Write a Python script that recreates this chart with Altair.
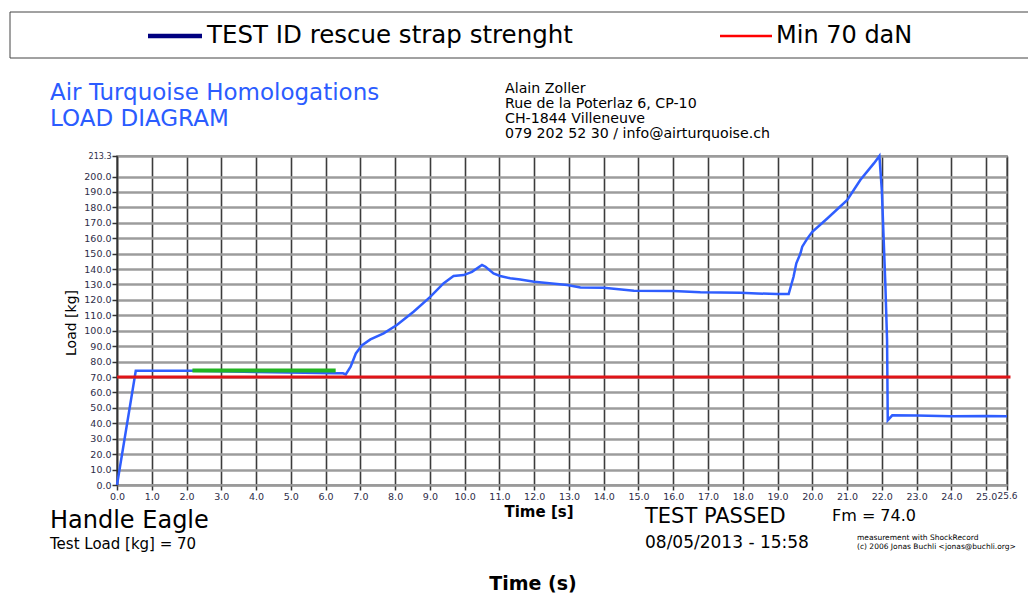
import altair as alt
import pandas as pd

# ---------------- data ----------------
TIME = [0.0, 0.54, 2.2, 4.0, 6.3, 6.5, 6.58, 6.72, 6.87, 7.05, 7.29, 7.67, 8.05, 8.53,
        9.01, 9.39, 9.68, 9.97, 10.21, 10.5, 10.6, 10.83, 11.02, 11.31, 11.6, 12.0,
        12.95, 13.33, 14.0, 14.87, 16.0, 16.78, 17.93, 18.41, 18.98, 19.32, 19.46,
        19.54, 19.66, 19.71, 19.86, 20.0, 20.43, 21.0, 21.38, 21.77, 21.93, 22.0,
        22.1, 22.15, 22.17, 22.3, 23.0, 24.0, 25.0, 25.6]
LOAD = [0.0, 74.1, 74.0, 73.3, 72.5, 72.4, 71.7, 76.7, 85.3, 90.7, 94.4, 98.3, 103.7,
        112.3, 122.0, 130.7, 135.5, 136.1, 138.2, 142.6, 141.5, 137.2, 135.5, 134.0,
        133.3, 131.8, 129.6, 128.1, 127.9, 125.9, 125.7, 124.9, 124.6, 124.2, 123.8,
        123.8, 135.0, 143.7, 150.2, 154.5, 159.9, 164.2, 172.8, 184.7, 197.7, 208.5,
        213.3, 191.0, 130.7, 94.0, 42.0, 45.2, 45.0, 44.6, 44.8, 44.6]
GREEN_TIME = [2.17, 6.29]
GREEN_LOAD = [74.3, 74.3]
MIN_TIME = [0.0, 25.7]
MIN_LOAD = [70.0, 70.0]

X_TICKS = [0.0, 1.0, 2.0, 3.0, 4.0, 5.0, 6.0, 7.0, 8.0, 9.0, 10.0, 11.0, 12.0, 13.0,
           14.0, 15.0, 16.0, 17.0, 18.0, 19.0, 20.0, 21.0, 22.0, 23.0, 24.0, 25.0, 25.6]
Y_TICKS = [0.0, 10.0, 20.0, 30.0, 40.0, 50.0, 60.0, 70.0, 80.0, 90.0, 100.0, 110.0,
           120.0, 130.0, 140.0, 150.0, 160.0, 170.0, 180.0, 190.0, 200.0, 213.3]

LEGEND_LABELS = ["TEST ID rescue strap strenght", "Min 70 daN"]
TITLE_LINES = ["Air Turquoise Homologations", "LOAD DIAGRAM"]
ADDRESS_LINES = ["Alain Zoller", "Rue de la Poterlaz 6, CP-10", "CH-1844 Villeneuve",
                 "079 202 52 30 / info@airturquoise.ch"]
CREDIT_LINES = ["measurement with ShockRecord", "(c) 2006 Jonas Buchli <jonas@buchli.org>"]

# ---------------- layout ----------------
OX, OY = 117, 156          # plot origin on the page
W, H = 890, 329
FONT = "DejaVu Sans"

xs = alt.Scale(domain=[0, 25.6], nice=False, zero=False)
ys = alt.Scale(domain=[0, 213.3], nice=False)
xa = alt.Axis(values=X_TICKS, format=".1f", title=None,
              labelFontSize=alt.condition("datum.value > 25.5", alt.value(9), alt.value(9.5)))
ya = alt.Axis(values=Y_TICKS, format=".1f", title=None,
              labelFontSize=alt.condition("datum.value > 210", alt.value(8), alt.value(9.5)))


def series(t, v):
    return alt.Chart(pd.DataFrame({"t": t, "v": v}))


blue = series(TIME, LOAD).mark_line(color="#2f5eff", strokeWidth=2.5).encode(
    x=alt.X("t:Q", scale=xs, axis=xa), y=alt.Y("v:Q", scale=ys, axis=ya))
green = series(GREEN_TIME, GREEN_LOAD).mark_line(color="#22b422", strokeWidth=4).encode(
    x=alt.X("t:Q", scale=xs, axis=xa), y=alt.Y("v:Q", scale=ys, axis=ya))
red = series(MIN_TIME, MIN_LOAD).mark_line(color="#e01418", strokeWidth=3).encode(
    x=alt.X("t:Q", scale=xs, axis=xa), y=alt.Y("v:Q", scale=ys, axis=ya))

one = pd.DataFrame({"a": [0]})


def txt(s, x, y, size, color="black", weight="normal", align="left",
        baseline="alphabetic", angle=0, font=FONT, line_height=None):
    kw = dict(fontSize=size, color=color, fontWeight=weight, align=align,
              baseline=baseline, angle=angle, font=font)
    if line_height is not None:
        kw["lineHeight"] = line_height
    return alt.Chart(one).mark_text(**kw).encode(
        x=alt.value(x - OX), y=alt.value(y - OY), text=alt.value(s))


def hline(x1, x2, y, color, width):
    return alt.Chart(one).mark_rule(color=color, strokeWidth=width).encode(
        x=alt.value(x1 - OX), x2=alt.value(x2 - OX), y=alt.value(y - OY))


legend_box = alt.Chart(one).mark_rect(fill="white", fillOpacity=0, stroke="#444",
                                      strokeWidth=1).encode(
    x=alt.value(10 - OX), x2=alt.value(1045 - OX), y=alt.value(12 - OY), y2=alt.value(58 - OY))

layers = [
    blue, green, red,
    legend_box,
    hline(148, 202, 36, "#000080", 4.5),
    txt(LEGEND_LABELS[0], 207, 36, 24.5, baseline="middle"),
    hline(720, 772, 36, "#ff0000", 2.5),
    txt(LEGEND_LABELS[1], 776, 36, 24, baseline="middle"),
    txt(TITLE_LINES[0], 50, 100, 23, color="#2b5cff"),
    txt(TITLE_LINES[1], 50, 126, 23, color="#2b5cff"),
    txt(ADDRESS_LINES[0], 505, 93, 14.2),
    txt(ADDRESS_LINES[1], 505, 108, 14.2),
    txt(ADDRESS_LINES[2], 505, 123, 14.2),
    txt(ADDRESS_LINES[3], 505, 138, 14.2),
    txt("Load [kg]", 76, 323, 14, angle=270, align="center"),
    txt("Time [s]", 539, 517, 15, weight="bold", align="center"),
    txt("Handle Eagle", 50, 528, 24),
    txt("Test Load [kg] = 70", 50, 549, 15),
    txt("TEST PASSED", 645, 523, 21),
    txt("Fm = 74.0", 832, 521, 16),
    txt("08/05/2013 - 15:58", 645, 548, 17),
    txt(CREDIT_LINES, 857, 540, 7.5, line_height=8.5),
    txt("Time (s)", 533, 590, 19, weight="bold", align="center"),
]

chart = alt.layer(*layers).properties(
    width=W, height=H,
    autosize=alt.AutoSizeParams(type="none"),
    padding={"left": OX - 8, "top": OY - 8, "right": 21, "bottom": 109},
    background="white",
).configure_view(
    stroke="#7a7a7a", strokeWidth=1.5
).configure_axisX(
    grid=True, gridColor="#3c3c3c", gridWidth=1.6, gridOpacity=1,
    domainColor="#9a9a9a", domainWidth=2,
    tickColor="#333333", tickSize=5, tickWidth=1.5,
    labelFont=FONT, labelColor="#2d2d48", labelPadding=1,
    labelOverlap=False, labelFlush=False, labelBound=False,
).configure_axisY(
    grid=True, gridColor="#9c9c9c", gridWidth=2.4, gridOpacity=1,
    domainColor="#333333", domainWidth=1.6,
    tickColor="#333333", tickSize=5, tickWidth=1.5,
    labelFont=FONT, labelColor="#2d2d48", labelPadding=1,
    labelOverlap=False, labelFlush=False, labelBound=False,
)

chart.save("out.html", embed_options={"renderer": "svg", "actions": False})
